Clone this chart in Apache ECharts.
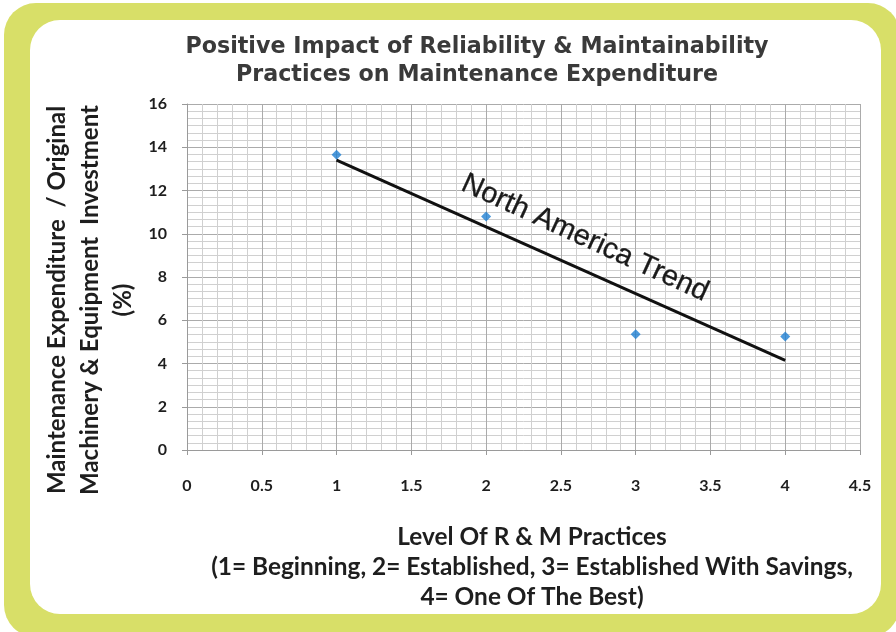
<!DOCTYPE html>
<html>
<head>
<meta charset="utf-8">
<script src="https://cdn.jsdelivr.net/npm/echarts@6/dist/echarts.min.js"></script>
<style>
  html, body { margin: 0; padding: 0; background: #ffffff; }
  #chart { width: 896px; height: 632px; }
</style>
</head>
<body>
<div id="chart"></div>
<script>
// Observed maintenance expenditure by level of R & M practice
const practiceLevels = [1, 2, 3, 4];
const expenditurePct = [13.65, 10.8, 5.35, 5.25];

// North America trend line end points
const trendLevels = [1, 4];
const trendPct = [13.4, 4.15];

// Axis tick labels
const xTickLabels = ['0', '0.5', '1', '1.5', '2', '2.5', '3', '3.5', '4', '4.5'];
const yTickLabels = ['0', '2', '4', '6', '8', '10', '12', '14', '16'];

const titleLines = ['Positive Impact of Reliability & Maintainability', 'Practices on Maintenance Expenditure'];
const xNameLines = ['Level Of R & M Practices', '(1= Beginning, 2= Established, 3= Established With Savings,', '4= One Of The Best)'];
const yNameLines = ['Maintenance Expenditure  / Original', 'Machinery & Equipment  Investment', '(%)'];
const trendName = 'North America Trend';
const trendLabelAt = [2.66, 9.8];

const chart = echarts.init(document.getElementById('chart'), null, { renderer: 'canvas' });

const labelFont = 'Lato, "Open Sans", sans-serif';

const option = {
  backgroundColor: '#ffffff',
  animation: false,
  title: {
    text: titleLines.join('\n'),
    left: 472,
    top: 28,
    textAlign: 'center',
    textStyle: {
      fontFamily: '"DejaVu Sans", Verdana, sans-serif',
      fontWeight: 'bold',
      fontSize: 22.2,
      lineHeight: 28,
      color: '#3a3a3a'
    }
  },
  grid: { left: 187, right: 36, top: 104, bottom: 182 },
  xAxis: {
    type: 'value',
    min: 0, max: 4.5, interval: 0.5,
    axisLine: { show: true, lineStyle: { color: '#9a9a9a', width: 1 } },
    axisTick: { show: true, length: 5, lineStyle: { color: '#9a9a9a' } },
    axisLabel: {
      margin: 28,
      fontFamily: labelFont, fontWeight: 'bold', fontSize: 16, color: '#1e1e1e',
      formatter: v => xTickLabels[Math.round(v / 0.5)]
    },
    splitLine: { show: true, lineStyle: { color: '#ababab', width: 1 } },
    minorTick: { show: false, splitNumber: 5 },
    minorSplitLine: { show: true, lineStyle: { color: '#d0d0d0', width: 1 } }
  },
  yAxis: {
    type: 'value',
    min: 0, max: 16, interval: 2,
    axisLine: { show: true, lineStyle: { color: '#9a9a9a', width: 1 } },
    axisTick: { show: true, length: 5, lineStyle: { color: '#9a9a9a' } },
    axisLabel: {
      margin: 20,
      fontFamily: labelFont, fontWeight: 'bold', fontSize: 16, color: '#1e1e1e',
      formatter: v => yTickLabels[Math.round(v / 2)]
    },
    splitLine: { show: true, lineStyle: { color: '#ababab', width: 1 } },
    minorTick: { show: false, splitNumber: 6 },
    minorSplitLine: { show: true, lineStyle: { color: '#d0d0d0', width: 1 } }
  },
  series: [
    {
      type: 'line',
      name: trendName,
      data: trendLevels.map((x, i) => [x, trendPct[i]]),
      showSymbol: false,
      symbol: 'none',
      lineStyle: { color: '#111111', width: 3 },
      z: 3
    },
    {
      type: 'scatter',
      data: practiceLevels.map((x, i) => [x, expenditurePct[i]]),
      symbol: 'diamond',
      symbolSize: 10,
      itemStyle: { color: '#1f80d2' },
      z: 4
    }
  ],
  graphic: [
    {
      type: 'rect', id: 'frameOuter', z: -20, silent: true,
      shape: { x: 4, y: 3, width: 896, height: 634, r: 32 },
      style: { fill: '#d8df68' }
    },
    {
      type: 'rect', id: 'frameInner', z: -19, silent: true,
      shape: { x: 30, y: 20, width: 851, height: 594, r: 30 },
      style: { fill: '#ffffff' }
    },
    {
      type: 'text', id: 'yName', silent: true,
      x: 90, y: 300, rotation: Math.PI / 2,
      style: {
        text: yNameLines.join('\n'),
        align: 'center', verticalAlign: 'middle',
        font: 'bold 24px ' + labelFont,
        lineHeight: 33,
        fill: '#1e1e1e'
      }
    },
    {
      type: 'text', id: 'xName', silent: true,
      x: 532, y: 567,
      style: {
        text: xNameLines.join('\n'),
        align: 'center', verticalAlign: 'middle',
        font: 'bold 24.4px ' + labelFont,
        lineHeight: 30,
        fill: '#1e1e1e'
      }
    }
  ]
};

chart.setOption(option);

// Place the trend caption along the line, anchored in data space
const anchor = chart.convertToPixel({ gridIndex: 0 }, trendLabelAt);
chart.setOption({
  graphic: [{
    type: 'text', id: 'trendCaption', silent: true, z: 10,
    x: anchor[0], y: anchor[1], rotation: -0.43,
    style: {
      text: trendName,
      align: 'center', verticalAlign: 'middle',
      fontSize: 29,
      fontFamily: '"Liberation Sans", Arial, sans-serif',
      fontWeight: 'normal',
      fill: '#1a1a1a',
      stroke: '#1a1a1a',
      lineWidth: 0.3
    }
  }]
});
</script>
</body>
</html>
